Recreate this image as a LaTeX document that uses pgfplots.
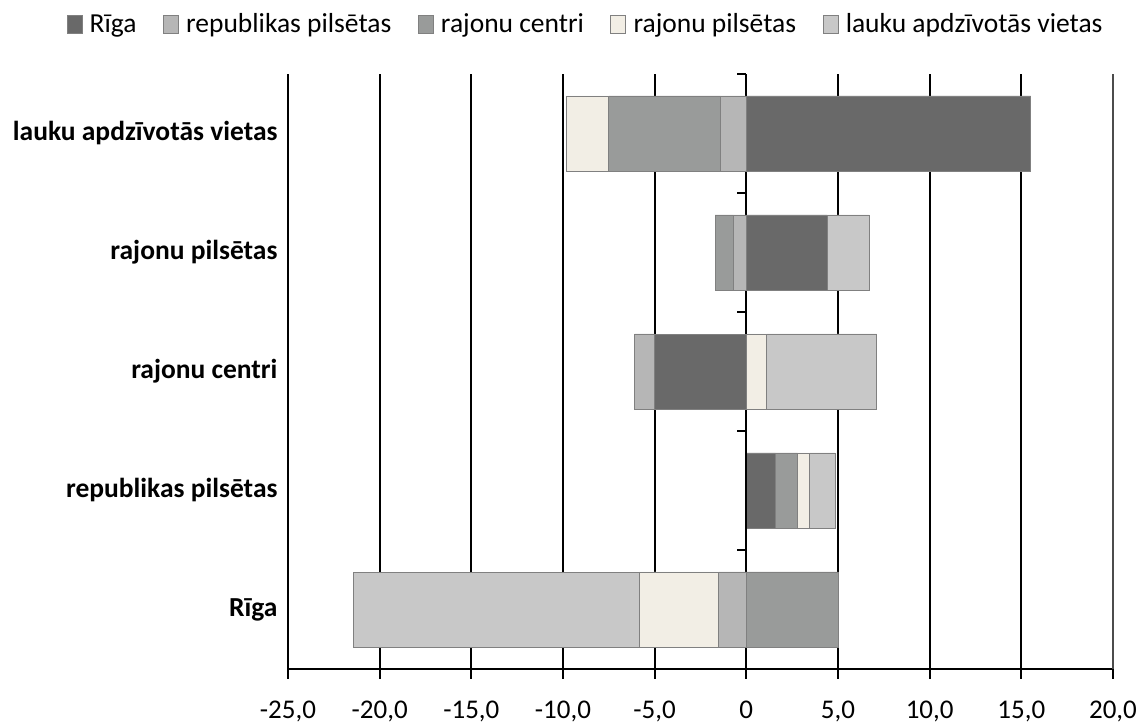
\documentclass[border=0pt]{standalone}
\usepackage{pgfplots}
\pgfplotsset{compat=1.18}
\usepackage{pgfplotstable}
\usepackage{fontspec}
\setmainfont{Carlito}

\definecolor{cRiga}{HTML}{696969}
\definecolor{cRep}{HTML}{B6B6B6}
\definecolor{cCen}{HTML}{999B9A}
\definecolor{cRpi}{HTML}{F2EEE5}
\definecolor{cLau}{HTML}{C8C8C8}
\definecolor{cEdge}{HTML}{808080}

% rows: 0 Riga, 1 republikas pilsetas, 2 rajonu centri, 3 rajonu pilsetas, 4 lauku apdz. vietas
\pgfplotstableread{
y riga rep cen rpi lau
0 0 -1.5 5.0 -4.35 -15.6
1 1.6 0 1.2 0.65 1.4
2 -5.0 -1.1 0 1.1 6.0
3 4.4 -0.7 -1.0 0 2.3
4 15.5 -1.4 -6.1 -2.3 0
}\data

\pgfplotsset{base/.style={
  scale only axis, width=825pt, height=595pt,
  xmin=-25, xmax=20, ymin=-0.5, ymax=4.5,
  xbar stacked, bar width=75pt,
  at={(288pt,58pt)}, anchor=south west,
  clip=false,
}}

\begin{document}
\begin{tikzpicture}
\useasboundingbox (0,0) rectangle (1148pt,727pt);
% positive parts
\begin{axis}[base,
  axis x line*=bottom, axis y line*=left,
  y axis line style={draw=none},
  x axis line style={black, line width=2pt},
  ytick={0,1,2,3,4},
  yticklabels={Rīga, republikas pilsētas, rajonu centri, rajonu pilsētas, lauku apdzīvotās vietas},
  ytick style={draw=none},
  yticklabel style={font=\bfseries\fontsize{27.5}{32}\selectfont, xshift=3pt},
  xtick={-25,-20,-15,-10,-5,0,5,10,15},
  xticklabels={{-25,0},{-20,0},{-15,0},{-10,0},{-5,0},0,{5,0},{10,0},{15,0}},
  extra x ticks={20}, extra x tick labels={20{,}0},
  extra x tick style={grid style={black!70, line width=1.2pt}},
  xticklabel style={font=\fontsize{27}{32}\selectfont, yshift=-18pt},
  xtick style={black, line width=2pt},
  tick align=outside, major tick length=10pt,
  xmajorgrids, grid style={black, line width=2pt},
  legend style={draw=none, fill=none, at={(0.361,1.084)}, anchor=center,
    legend columns=-1, font=\fontsize{27.5}{32}\selectfont,
    nodes={inner sep=2.5pt},
    /tikz/every odd column/.append style={column sep=5pt},
    /tikz/every even column/.append style={column sep=24pt}},
  legend image code/.code={\draw[#1, draw=cEdge, line width=0.6pt] (0pt,-9pt) rectangle (15pt,9pt);},
]
\addplot[fill=cRiga, draw=cEdge, line width=0.8pt] table[y=y, x expr={max(\thisrow{riga},0)}] {\data};
\addlegendentry{Rīga}
\addplot[fill=cRep, draw=cEdge, line width=0.8pt] table[y=y, x expr={max(\thisrow{rep},0)}] {\data};
\addlegendentry{republikas pilsētas}
\addplot[fill=cCen, draw=cEdge, line width=0.8pt] table[y=y, x expr={max(\thisrow{cen},0)}] {\data};
\addlegendentry{rajonu centri}
\addplot[fill=cRpi, draw=cEdge, line width=0.8pt] table[y=y, x expr={max(\thisrow{rpi},0)}] {\data};
\addlegendentry{rajonu pilsētas}
\addplot[fill=cLau, draw=cEdge, line width=0.8pt] table[y=y, x expr={max(\thisrow{lau},0)}] {\data};
\addlegendentry{lauku apdzīvotās vietas}
\end{axis}
% negative parts
\begin{axis}[base, hide axis]
\addplot[fill=cRiga, draw=cEdge, line width=0.8pt] table[y=y, x expr={min(\thisrow{riga},0)}] {\data};
\addplot[fill=cRep, draw=cEdge, line width=0.8pt] table[y=y, x expr={min(\thisrow{rep},0)}] {\data};
\addplot[fill=cCen, draw=cEdge, line width=0.8pt] table[y=y, x expr={min(\thisrow{cen},0)}] {\data};
\addplot[fill=cRpi, draw=cEdge, line width=0.8pt] table[y=y, x expr={min(\thisrow{rpi},0)}] {\data};
\addplot[fill=cLau, draw=cEdge, line width=0.8pt] table[y=y, x expr={min(\thisrow{lau},0)}] {\data};
\draw[black, line width=2pt] (axis cs:0,-0.5) -- (axis cs:0,4.5);
\pgfplotsinvokeforeach{0.5,1.5,2.5,3.5,4.5}{
  \draw[black, line width=2pt] ([xshift=-9pt]axis cs:0,#1) -- (axis cs:0,#1);
}
\end{axis}
\end{tikzpicture}
\end{document}
